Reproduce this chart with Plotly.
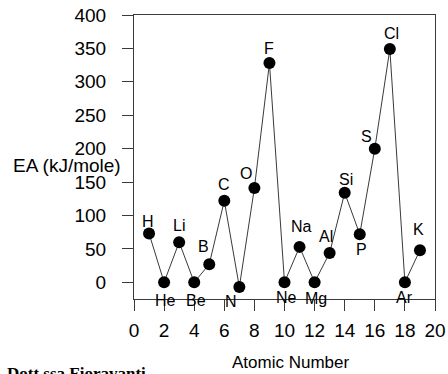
import plotly.graph_objects as go

# Data
atomic_number = [1, 2, 3, 4, 5, 6, 7, 8, 9, 10, 11, 12, 13, 14, 15, 16, 17, 18, 19]
symbols = ["H", "He", "Li", "Be", "B", "C", "N", "O", "F", "Ne",
           "Na", "Mg", "Al", "Si", "P", "S", "Cl", "Ar", "K"]
ea_values = [73, 0, 60, 0, 27, 122, -7, 141, 328, 0,
             53, 0, 44, 134, 72, 200, 349, 0, 48]
x_ticks = [0, 2, 4, 6, 8, 10, 12, 14, 16, 18, 20]
y_ticks = [0, 50, 100, 150, 200, 250, 300, 350, 400]

# label offsets in pixels (style)
label_dx = [-1, 1, 0, 2, -6, 0, -8, -8, 0, 2, 2, 1, -4, 1, 2, -8, 2, 0, -1]
label_dy = [12, -18, 17, -18, 18, 16, -15, 15, 15, -15, 20, -16, 16, 13, -15, 12, 16, -15, 21]

FONT = "Liberation Sans, Arial, sans-serif"

fig = go.Figure()
fig.add_trace(go.Scatter(
    x=atomic_number, y=ea_values, mode="lines+markers",
    line=dict(color="#3a3a3a", width=1),
    marker=dict(color="black", size=12),
    showlegend=False, cliponaxis=False, hoverinfo="skip",
))

for xv, yv, s, dx, dy in zip(atomic_number, ea_values, symbols, label_dx, label_dy):
    fig.add_annotation(x=xv, y=yv, text=s, showarrow=False,
                       xshift=dx, yshift=dy, xanchor="center", yanchor="middle",
                       font=dict(family=FONT, size=16, color="black"))

fig.add_annotation(xref="paper", yref="y", x=-0.036, y=175, text="EA (kJ/mole)",
                   showarrow=False, xanchor="right", yanchor="middle",
                   font=dict(family=FONT, size=19, color="black"))
fig.add_annotation(xref="x", yref="paper", x=10.4, y=-0.222, text="Atomic Number",
                   showarrow=False, xanchor="center", yanchor="middle",
                   font=dict(family=FONT, size=17, color="black"))
fig.add_annotation(xref="paper", yref="paper", x=-0.4286, y=-0.222, text="<b>Dott.ssa Fioravanti</b>",
                   showarrow=False, xanchor="left", yanchor="top",
                   font=dict(family="Liberation Serif, DejaVu Serif, serif", size=17, color="black"))

# small extension of bottom frame line to the left
fig.add_shape(type="line", xref="x", yref="y", x0=-0.6, x1=0, y0=-25, y1=-25,
              line=dict(color="#3a3a3a", width=1))

fig.update_layout(
    width=448, height=374,
    margin=dict(l=134, r=13, t=15, b=75, autoexpand=False),
    paper_bgcolor="white", plot_bgcolor="white",
    font=dict(family=FONT, color="black"),
)
fig.update_xaxes(range=[0, 20], tickvals=x_ticks, ticks="outside", ticklen=11,
                 tickcolor="#3a3a3a", showline=True, linecolor="#3a3a3a", linewidth=1,
                 mirror=True, showgrid=False, zeroline=False, automargin=False,
                 tickfont=dict(family=FONT, size=19, color="black"),
                 ticklabelstandoff=3)
fig.update_yaxes(range=[-25, 400], tickvals=y_ticks, ticks="outside", ticklen=11,
                 tickcolor="#3a3a3a", showline=True, linecolor="#3a3a3a", linewidth=1,
                 mirror=True, showgrid=False, zeroline=False, automargin=False,
                 tickfont=dict(family=FONT, size=19, color="black"),
                 ticklabelstandoff=12)

fig.write_html("out.html", config={"displayModeBar": False},
               post_script="document.body.style.margin='0px';")
